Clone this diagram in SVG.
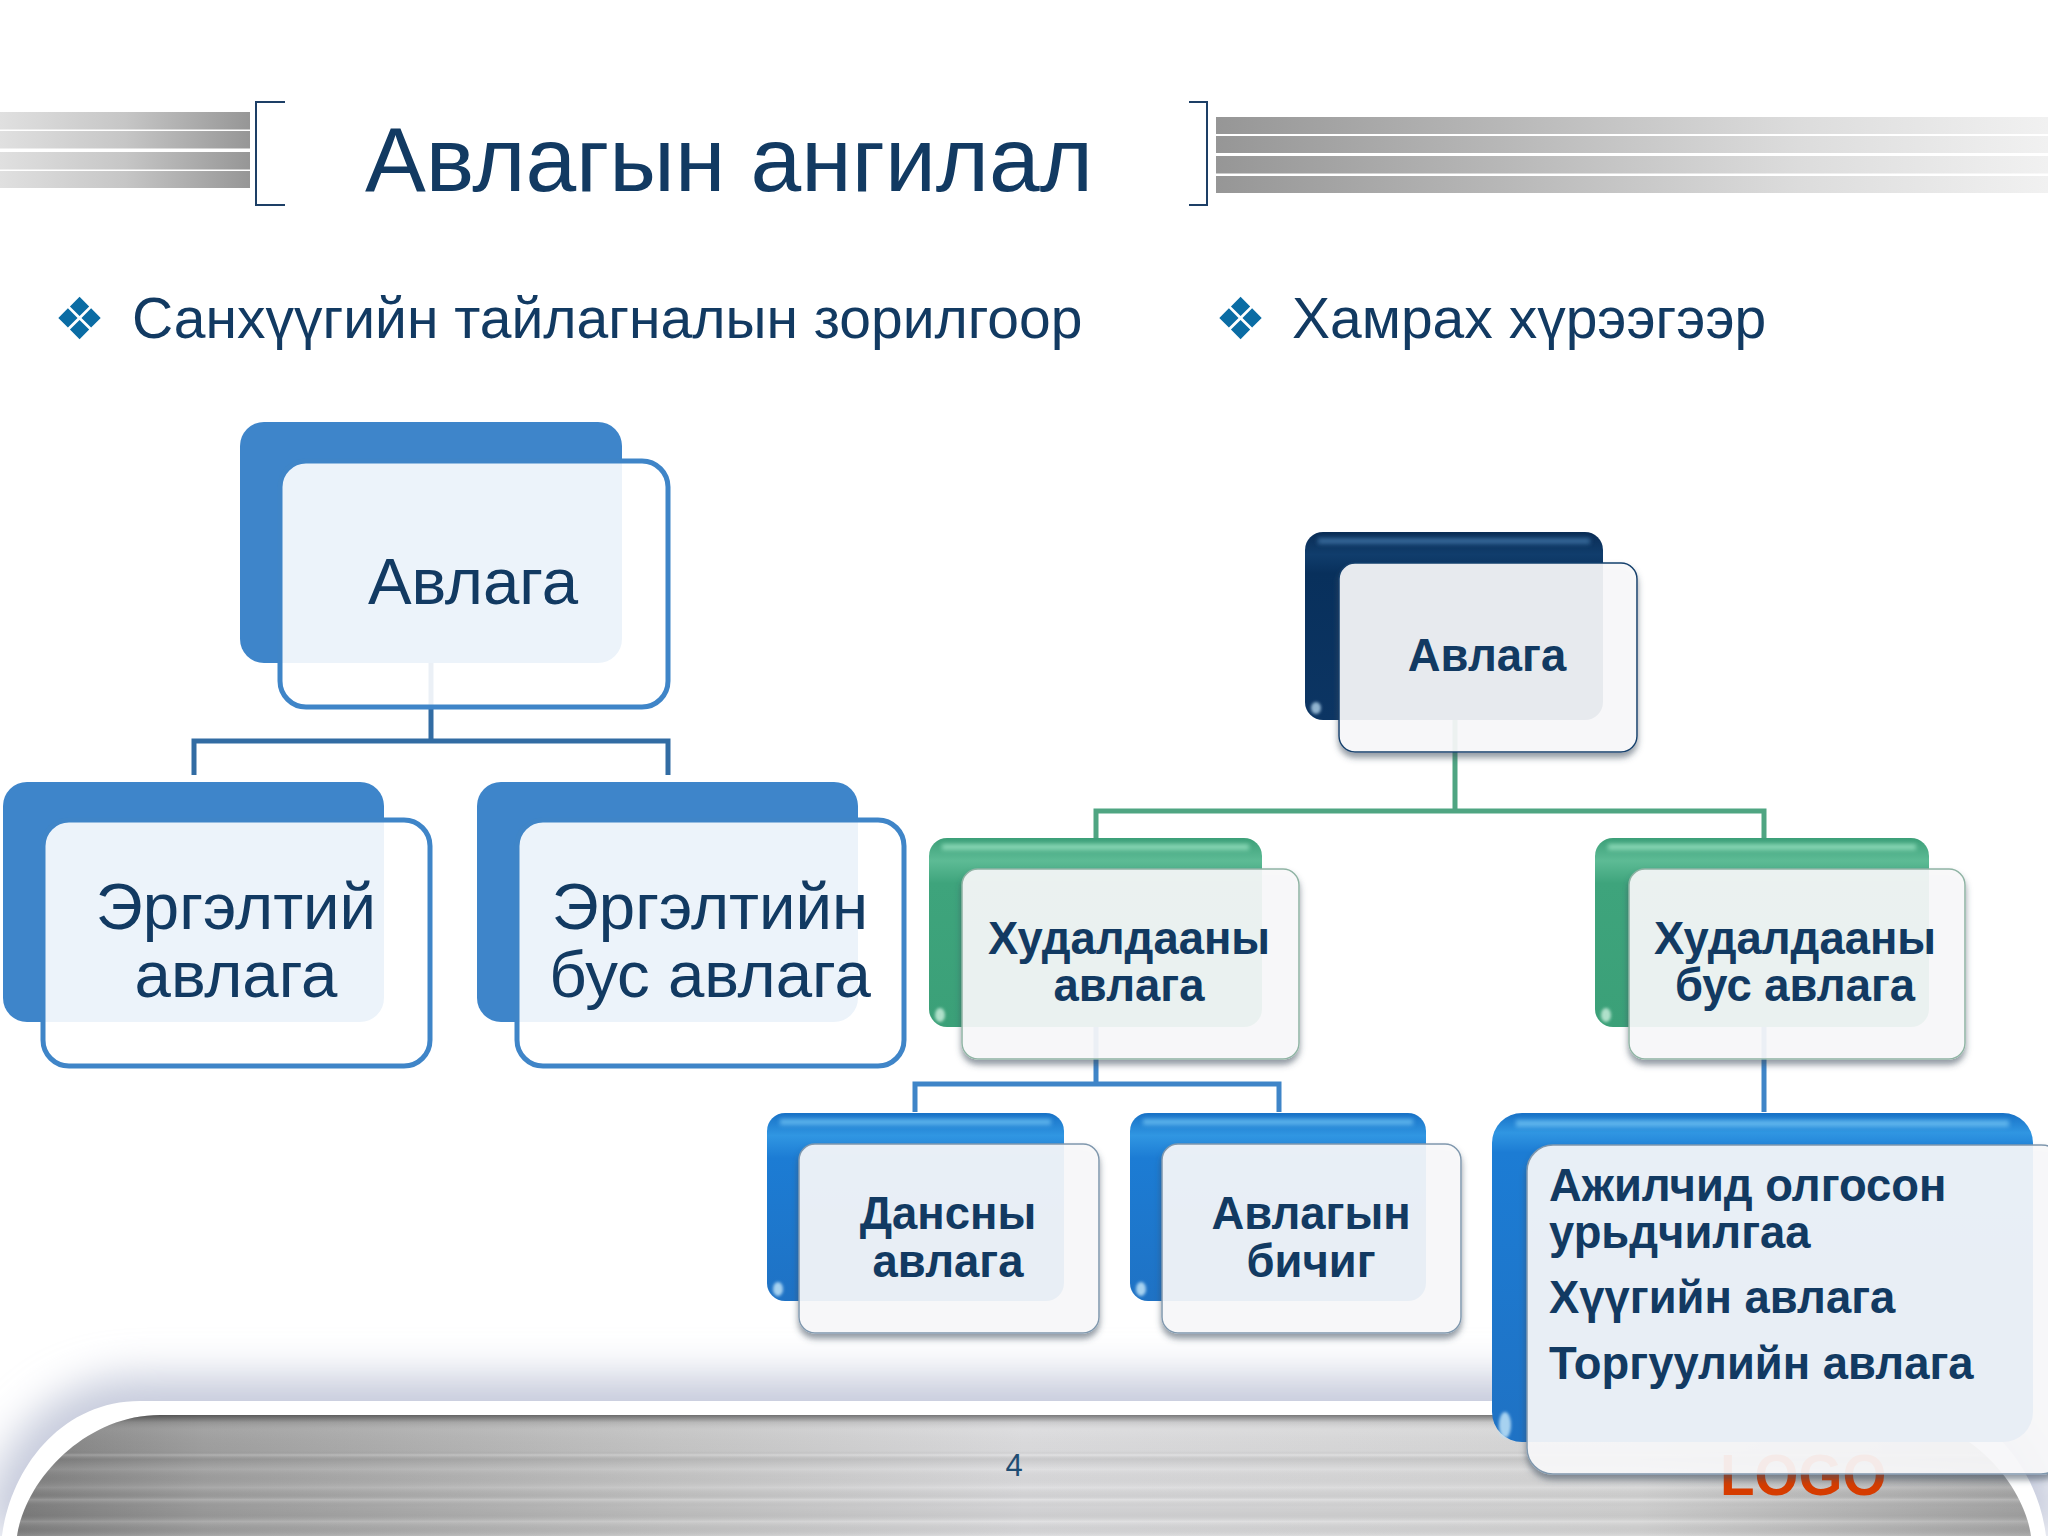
<svg xmlns="http://www.w3.org/2000/svg" width="2048" height="1536" viewBox="0 0 2048 1536">
<style>
text{font-family:"Liberation Sans",Arial,sans-serif;fill:#123a62}
.m{text-anchor:middle}
.t1{font-size:65.4px}
.t2{font-size:45.4px;font-weight:bold}
.sub{font-size:57px}
.bul{font-size:58px;fill:#0a6ca4;font-family:"DejaVu Sans",sans-serif}
.lb{fill:#3e85ca}
.lf{fill:#fff;fill-opacity:.9;stroke:#3f85c8;stroke-width:5}
.f{fill:#f7f8f9;fill-opacity:.93;filter:url(#fs);stroke-width:1.5}
.gloss{filter:url(#b3);opacity:.8}
.hi{filter:url(#b2);opacity:.85}
.cn{fill:none;stroke-width:5}
.bar{stroke:none}
</style>
<defs>
<linearGradient id="gl"><stop offset="0" stop-color="#e0e0e0"/><stop offset=".5" stop-color="#c6c6c6"/><stop offset="1" stop-color="#969696"/></linearGradient>
<linearGradient id="gr"><stop offset="0" stop-color="#969696"/><stop offset=".35" stop-color="#b8b8b8"/><stop offset=".7" stop-color="#dcdcdc"/><stop offset="1" stop-color="#f1f1f1"/></linearGradient>
<linearGradient id="foot" gradientUnits="userSpaceOnUse" x1="0" y1="0" x2="2048" y2="0"><stop offset="0" stop-color="#7d7d7d"/><stop offset=".1" stop-color="#a0a0a0"/><stop offset=".33" stop-color="#c6c6c6"/><stop offset=".5" stop-color="#dcdcde"/><stop offset=".8" stop-color="#d6d6d6"/><stop offset="1" stop-color="#a4a4a4"/></linearGradient>
<linearGradient id="stripe" gradientUnits="userSpaceOnUse" x1="0" y1="1415" x2="0" y2="1536">
<stop offset="0" stop-color="#000" stop-opacity=".45"/><stop offset=".06" stop-color="#000" stop-opacity=".08"/><stop offset=".12" stop-color="#fff" stop-opacity=".04"/><stop offset=".3" stop-color="#000" stop-opacity=".02"/><stop offset=".33" stop-color="#fff" stop-opacity=".18"/><stop offset=".37" stop-color="#000" stop-opacity=".08"/><stop offset=".45" stop-color="#fff" stop-opacity=".08"/><stop offset=".52" stop-color="#000" stop-opacity=".03"/><stop offset=".6" stop-color="#fff" stop-opacity=".1"/><stop offset=".66" stop-color="#000" stop-opacity=".05"/><stop offset=".7" stop-color="#fff" stop-opacity=".16"/><stop offset=".76" stop-color="#000" stop-opacity=".04"/><stop offset=".83" stop-color="#000" stop-opacity=".07"/><stop offset=".88" stop-color="#fff" stop-opacity=".13"/><stop offset=".95" stop-color="#000" stop-opacity=".05"/><stop offset="1" stop-color="#fff" stop-opacity=".1"/>
</linearGradient>
<linearGradient id="db" x1="0" y1="0" x2="0" y2="1"><stop offset="0" stop-color="#0a2c55"/><stop offset=".12" stop-color="#103d6c"/><stop offset=".22" stop-color="#08305c"/><stop offset="1" stop-color="#0c3563"/></linearGradient>
<linearGradient id="gb" x1="0" y1="0" x2="0" y2="1"><stop offset="0" stop-color="#3c9f78"/><stop offset=".12" stop-color="#5dbb95"/><stop offset=".24" stop-color="#3ea47c"/><stop offset="1" stop-color="#3ba078"/></linearGradient>
<linearGradient id="bb" x1="0" y1="0" x2="0" y2="1"><stop offset="0" stop-color="#1871c6"/><stop offset=".12" stop-color="#3096e2"/><stop offset=".24" stop-color="#1c7cd4"/><stop offset="1" stop-color="#1f72c4"/></linearGradient>
<linearGradient id="bb3" x1="0" y1="0" x2="0" y2="1"><stop offset="0" stop-color="#1871c6"/><stop offset=".06" stop-color="#3096e2"/><stop offset=".12" stop-color="#1c7cd4"/><stop offset="1" stop-color="#1f72c4"/></linearGradient>
<filter id="b20" filterUnits="userSpaceOnUse" x="-100" y="1250" width="2248" height="400"><feGaussianBlur stdDeviation="20"/></filter>
<filter id="b3" x="-20%" y="-200%" width="140%" height="500%"><feGaussianBlur stdDeviation="2"/></filter>
<filter id="b2" x="-100%" y="-100%" width="300%" height="300%"><feGaussianBlur stdDeviation="1.5"/></filter>
<filter id="fs" x="-10%" y="-10%" width="120%" height="125%">
<feGaussianBlur in="SourceAlpha" stdDeviation="3"/><feOffset dy="5"/><feComposite in2="SourceAlpha" operator="out" result="o"/>
<feFlood flood-color="#3d4c5c" flood-opacity=".6"/><feComposite in2="o" operator="in"/>
<feMerge><feMergeNode/><feMergeNode in="SourceGraphic"/></feMerge>
</filter>
</defs>

<rect id="background" width="2048" height="1536" fill="#fff"/>
<g id="footer">
<path d="M-20 1536C-10 1445 50 1376 140 1376L1908 1376C1998 1376 2058 1445 2068 1536Z" fill="#c6cbdc" filter="url(#b20)"/>
<path d="M2 1536C10 1470 60 1401 140 1401L1908 1401C1988 1401 2038 1470 2046 1536Z" fill="#fff"/>
<path d="M17 1536C25 1480 85 1415 160 1415L1888 1415C1963 1415 2023 1480 2031 1536Z" fill="url(#foot)"/>
<path d="M17 1536C25 1480 85 1415 160 1415L1888 1415C1963 1415 2023 1480 2031 1536Z" fill="url(#stripe)"/>
<text class="m" x="1014" y="1476" style="font-size:31px;fill:#1f4d73">4</text>
<text x="1720" y="1495" style="font-size:56.5px;font-weight:bold;fill:#d63c00">LOGO</text>
</g>
<g id="header">
<rect class="bar" x="0" y="112" width="250" height="17.5" fill="url(#gl)"/>
<rect class="bar" x="0" y="131" width="250" height="17.5" fill="url(#gl)"/>
<rect class="bar" x="0" y="152" width="250" height="17.5" fill="url(#gl)"/>
<rect class="bar" x="0" y="171" width="250" height="17" fill="url(#gl)"/>
<rect class="bar" x="1216" y="117" width="832" height="17" fill="url(#gr)"/>
<rect class="bar" x="1216" y="136" width="832" height="17" fill="url(#gr)"/>
<rect class="bar" x="1216" y="156" width="832" height="17.5" fill="url(#gr)"/>
<rect class="bar" x="1216" y="176" width="832" height="17" fill="url(#gr)"/>
<path d="M285 102H256V205H285M1189 102H1207V205H1189" fill="none" stroke="#1d3f66" stroke-width="2"/>
<text id="title" x="365" y="191" style="font-size:91.2px">Авлагын ангилал</text>
<text class="bul" x="53.5" y="339">❖</text>
<text class="sub" x="132" y="338">Санхүүгийн тайлагналын зорилгоор</text>
<text class="bul" x="1214.5" y="339">❖</text>
<text class="sub" x="1292" y="338">Хамрах хүрээгээр</text>
</g>

<g id="connectors">
<path class="cn" stroke="#326ca3" d="M431 662V741M194 775V741H668V775"/>
<path class="cn" stroke="#4fa582" d="M1455 720V811M1096 838V811H1764V838"/>
<path class="cn" stroke="#3f85c8" d="M1096 1027V1084M915 1112V1084H1279V1112M1764 1027V1112"/>
</g>

<g id="node-left-root">
<rect class="lb" x="240" y="422" width="382" height="241" rx="24"/>
<rect class="lf" x="280" y="461" width="388" height="246" rx="26"/>
<text class="t1 m" x="473" y="604">Авлага</text>
</g>
<g id="node-left-current">
<rect class="lb" x="3" y="782" width="381" height="240" rx="24"/>
<rect class="lf" x="43" y="820" width="387" height="246" rx="26"/>
<text class="t1 m" x="236" y="929">Эргэлтий</text>
<text class="t1 m" x="236" y="997">авлага</text>
</g>
<g id="node-left-noncurrent">
<rect class="lb" x="477" y="782" width="381" height="240" rx="24"/>
<rect class="lf" x="517" y="820" width="387" height="246" rx="26"/>
<text class="t1 m" x="710" y="929">Эргэлтийн</text>
<text class="t1 m" x="710" y="997">бус авлага</text>
</g>

<g id="node-right-root">
<rect x="1305" y="532" width="298" height="188" rx="18" fill="url(#db)"/>
<rect class="gloss" x="1318" y="538" width="272" height="6" fill="#3f74a6"/>
<ellipse class="hi" cx="1316" cy="708" rx="5" ry="6" fill="#a9cbe4"/>
<rect class="f" x="1339" y="563" width="298" height="189" rx="16" stroke="#15406c"/>
<text class="t2 m" x="1487" y="671">Авлага</text>
</g>
<g id="node-right-trade">
<rect x="929" y="838" width="333" height="189" rx="18" fill="url(#gb)"/>
<rect class="gloss" x="942" y="844" width="307" height="6" fill="#95e0bf"/>
<ellipse class="hi" cx="940" cy="1015" rx="5" ry="7" fill="#c4ecd9"/>
<rect class="f" x="962" y="869" width="337" height="190" rx="16" stroke="#8fb3a4"/>
<text class="t2 m" x="1129" y="954">Худалдааны</text>
<text class="t2 m" x="1129" y="1001">авлага</text>
</g>
<g id="node-right-nontrade">
<rect x="1595" y="838" width="334" height="189" rx="18" fill="url(#gb)"/>
<rect class="gloss" x="1608" y="844" width="308" height="6" fill="#95e0bf"/>
<ellipse class="hi" cx="1606" cy="1015" rx="5" ry="7" fill="#c4ecd9"/>
<rect class="f" x="1629" y="869" width="336" height="190" rx="16" stroke="#8fb3a4"/>
<text class="t2 m" x="1795" y="954">Худалдааны</text>
<text class="t2 m" x="1795" y="1001">бус авлага</text>
</g>
<g id="node-right-accounts">
<rect x="767" y="1113" width="297" height="188" rx="18" fill="url(#bb)"/>
<rect class="gloss" x="780" y="1119" width="271" height="6" fill="#6cc0f2"/>
<ellipse class="hi" cx="778" cy="1289" rx="5" ry="7" fill="#bfe3f8"/>
<rect class="f" x="799" y="1144" width="300" height="189" rx="16" stroke="#7f97ad"/>
<text class="t2 m" x="948" y="1229">Дансны</text>
<text class="t2 m" x="948" y="1277">авлага</text>
</g>
<g id="node-right-notes">
<rect x="1130" y="1113" width="296" height="188" rx="18" fill="url(#bb)"/>
<rect class="gloss" x="1143" y="1119" width="270" height="6" fill="#6cc0f2"/>
<ellipse class="hi" cx="1141" cy="1289" rx="5" ry="7" fill="#bfe3f8"/>
<rect class="f" x="1162" y="1144" width="299" height="189" rx="16" stroke="#7f97ad"/>
<text class="t2 m" x="1311" y="1229">Авлагын</text>
<text class="t2 m" x="1311" y="1277">бичиг</text>
</g>
<g id="node-right-other">
<rect x="1492" y="1113" width="541" height="329" rx="30" fill="url(#bb3)"/>
<rect class="gloss" x="1516" y="1120" width="493" height="7" fill="#6cc0f2"/>
<ellipse class="hi" cx="1505" cy="1425" rx="6" ry="13" fill="#bfe3f8"/>
<rect class="f" x="1527" y="1145" width="540" height="329" rx="26" stroke="#7f97ad"/>
<text class="t2" x="1549" y="1201">Ажилчид олгосон</text>
<text class="t2" x="1549" y="1248">урьдчилгаа</text>
<text class="t2" x="1549" y="1313">Хүүгийн авлага</text>
<text class="t2" x="1549" y="1379">Торгуулийн авлага</text>
</g>
</svg>
